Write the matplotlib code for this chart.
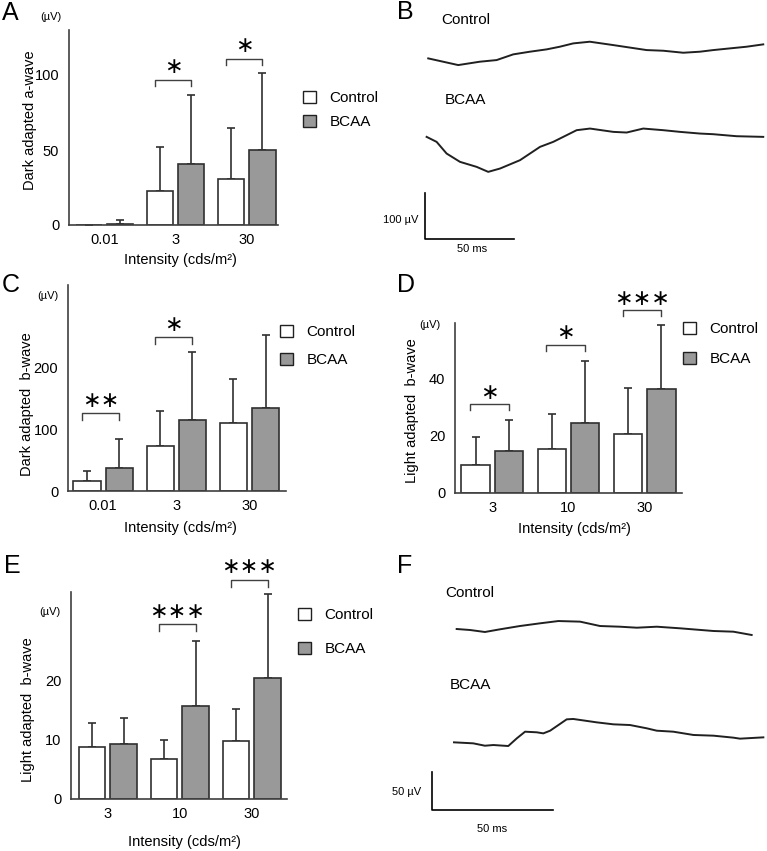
import numpy as np
import matplotlib.pyplot as plt
from matplotlib.patches import Patch

plt.rcParams['font.family'] = ['Liberation Sans', 'DejaVu Sans']

# bar chart data: (mean, sd) for Control and BCAA
a_ticks = ['0.01', '3', '30']
a_ctrl = [0, 23, 31]
a_ctrl_sd = [0, 29, 34]
a_bcaa = [0.8, 41, 50]
a_bcaa_sd = [2.7, 46, 51.5]
a_sig = [(1, 97, '∗'), (2, 111, '∗')]

c_ticks = ['0.01', '3', '30']
c_ctrl = [17, 73, 111]
c_ctrl_sd = [16, 57, 70]
c_bcaa = [38, 115, 135]
c_bcaa_sd = [47, 111, 118]
c_sig = [(0, 126, '∗∗'), (1, 250, '∗')]

d_ticks = ['3', '10', '30']
d_ctrl = [9.9, 15.6, 20.6]
d_ctrl_sd = [9.7, 12.2, 16.2]
d_bcaa = [14.7, 24.7, 36.4]
d_bcaa_sd = [10.8, 21.5, 22.4]
d_sig = [(0, 31.1, '∗'), (1, 51.8, '∗'), (2, 64, '∗∗∗')]

e_ticks = ['3', '10', '30']
e_ctrl = [8.8, 6.7, 9.7]
e_ctrl_sd = [4.0, 3.2, 5.5]
e_bcaa = [9.3, 15.6, 20.4]
e_bcaa_sd = [4.4, 11.0, 14.0]
e_sig = [(1, 29.4, '∗∗∗'), (2, 36.9, '∗∗∗')]

# ERG traces (time in ms, amplitude in uV relative to start)
b_ctrl_t = [0, 16.8, 28.9, 38.3, 47.6, 56.9, 66.3, 73.7, 81.2, 90.5, 103.6, 122.3,
            131.6, 142.8, 152.1, 159.6, 168.9, 178.3, 187.6]
b_ctrl_v = [0, -14.3, -7.1, -3.6, 8.6, 14.3, 19.3, 25, 32.1, 35.7, 28.5, 17.8,
            16.4, 12.1, 14.3, 17.8, 21.4, 25, 30]
b_bcaa_t = [0, 5.6, 11.2, 18.7, 28, 34.5, 41.1, 52.3, 63.5, 70.9, 78.4, 84, 91.5,
            104.5, 112, 121.3, 132.5, 141.9, 153.1, 160.5, 173.6, 188.5]
b_bcaa_v = [0, -10.7, -35.7, -53.5, -64.2, -74.9, -67.8, -49.9, -21.4, -10.7, 3.6,
            14.3, 17.8, 10.7, 9.3, 17.8, 14.3, 10.7, 7.1, 5.7, 1.4, 0]

f_ctrl_t = [0, 5.5, 11.6, 17.8, 26, 34.2, 41.8, 50.7, 58.9, 67.1, 74, 82.2, 91.8,
            105.5, 113.7, 121.2]
f_ctrl_v = [0, -1.3, -3.9, -0.4, 3.9, 7.4, 10.4, 9.6, 3.9, 3.0, 1.7, 3.0, 0.9,
            -2.6, -3.5, -7.8]
f_bcaa_t = [0, 7.9, 12.7, 16.2, 22.3, 25.8, 29.2, 34, 36.7, 39.5, 42.9, 46.3, 49,
            58.6, 65.5, 72.3, 79.2, 83.3, 90.1, 98.4, 106.6, 114.8, 117.5, 127.1]
f_bcaa_v = [0, -1.3, -4.4, -3.5, -4.8, 5.2, 13.9, 13.1, 11.7, 15.2, 22.6, 30, 30.5,
            26.1, 23.5, 22.6, 18.3, 15.2, 13.9, 9.6, 8.7, 6.1, 4.8, 6.5]

W, H = 767, 851
fig = plt.figure(figsize=(W / 100, H / 100), dpi=100)


def px_axes(left, top, right, bottom):
    return fig.add_axes([left / W, 1 - bottom / H, (right - left) / W, (bottom - top) / H])


def ftext(x, y, s, **kw):
    fig.text(x / W, 1 - y / H, s, **kw)


edge = '#303030'


def bar_panel(ax, ticks, ctrl, ctrl_sd, bcaa, bcaa_sd, sig, ylim, yticks, xlim,
              leg_pos, leg_space, ylab, ylab_xy, xlab_xy):
    x = np.arange(len(ticks))
    ax.bar(x - 0.22, ctrl, 0.37, color='white', edgecolor=edge, linewidth=1.2, zorder=2)
    ax.bar(x + 0.22, bcaa, 0.37, color='#999999', edgecolor=edge, linewidth=1.2, zorder=2)
    ax.errorbar(x - 0.22, ctrl, yerr=[np.zeros(3), ctrl_sd], fmt='none', ecolor=edge,
                elinewidth=1.2, capsize=3, capthick=1.2, zorder=1)
    ax.errorbar(x + 0.22, bcaa, yerr=[np.zeros(3), bcaa_sd], fmt='none', ecolor=edge,
                elinewidth=1.2, capsize=3, capthick=1.2, zorder=1)
    leg = (ylim[1] - ylim[0]) * 0.035
    for i, y, s in sig:
        ax.plot([i - 0.29, i - 0.29, i + 0.22, i + 0.22], [y - leg, y, y, y - leg],
                color='#404040', lw=1.0, clip_on=False)
        ax.text(i - 0.035, y + leg * 0.3, s, ha='center', va='bottom', fontsize=16,
                family=['DejaVu Sans'], clip_on=False)
    ax.set_xlim(*xlim)
    ax.set_ylim(*ylim)
    ax.set_xticks(x)
    ax.set_xticklabels(ticks)
    ax.set_yticks(yticks)
    ax.tick_params(length=0, labelsize=10.5, pad=7)
    ax.tick_params(axis='x', pad=6)
    for sp in ['top', 'right']:
        ax.spines[sp].set_visible(False)
    for sp in ['left', 'bottom']:
        ax.spines[sp].set_color('#404040')
        ax.spines[sp].set_linewidth(1.2)
    ax.set_ylabel(ylab, fontsize=10.5, va='center')
    ax.yaxis.set_label_coords(*ylab_xy)
    ax.set_xlabel('Intensity (cds/m²)', fontsize=10.5, va='center')
    ax.xaxis.set_label_coords(*xlab_xy)
    handles = [Patch(facecolor='white', edgecolor='#202020', linewidth=1.0, label='Control'),
               Patch(facecolor='#999999', edgecolor='#202020', linewidth=1.0, label='BCAA')]
    fig.legend(handles=handles, loc='upper left',
               bbox_to_anchor=(leg_pos[0] / W, 1 - leg_pos[1] / H), frameon=False,
               fontsize=11, handlelength=0.85, handleheight=0.85, handletextpad=0.9,
               labelspacing=leg_space, borderpad=0, borderaxespad=0)


axA = px_axes(69, 30, 278, 225)
bar_panel(axA, a_ticks, a_ctrl, a_ctrl_sd, a_bcaa, a_bcaa_sd, a_sig, (0, 130),
          [0, 50, 100], (-0.5, 2.44), (303, 91), 0.6, 'Dark adapted a-wave',
          (-0.187, 0.54), (0.531, -0.18))

axC = px_axes(68, 285, 286, 491)
bar_panel(axC, c_ticks, c_ctrl, c_ctrl_sd, c_bcaa, c_bcaa_sd, c_sig, (0, 334),
          [0, 100, 200], (-0.48, 2.5), (280, 325), 0.88, 'Dark adapted  b-wave',
          (-0.188, 0.42), (0.516, -0.181))

axD = px_axes(455, 323, 682, 493)
bar_panel(axD, d_ticks, d_ctrl, d_ctrl_sd, d_bcaa, d_bcaa_sd, d_sig, (0, 59.6),
          [0, 20, 40], (-0.49, 2.49), (683, 322), 1.02, 'Light adapted  b-wave',
          (-0.191, 0.486), (0.525, -0.209))

axE = px_axes(71, 592, 287, 799)
bar_panel(axE, e_ticks, e_ctrl, e_ctrl_sd, e_bcaa, e_bcaa_sd, e_sig, (0, 34.8),
          [0, 10, 20], (-0.51, 2.49), (298, 608), 1.28, 'Light adapted  b-wave',
          (-0.198, 0.43), (0.523, -0.208))

# trace panels
axB = px_axes(380, 0, 767, 270)
axB.plot(np.array(b_ctrl_t) + 0.9, np.array(b_ctrl_v) + 453, color='#202020', lw=1.4)
axB.plot(b_bcaa_t, np.array(b_bcaa_v) + 285, color='#202020', lw=1.4)
axB.plot([-1, -1, 49], [165.7, 65.7, 65.7], color='black', lw=1.2)
axB.set_xlim(-26.1, 190.6)
axB.set_ylim(0, 578)
axB.axis('off')

axF = px_axes(380, 570, 767, 851)
axF.plot(np.array(f_ctrl_t) + 1.1, np.array(f_ctrl_v) + 289.7, color='#202020', lw=1.4)
axF.plot(f_bcaa_t, np.array(f_bcaa_v) + 141.8, color='#202020', lw=1.4)
axF.plot([-9.2, -9.2, 40.8], [103.5, 53.5, 53.5], color='black', lw=1.2)
axF.set_xlim(-30.4, 128.6)
axF.set_ylim(0, 366.7)
axF.axis('off')

# text labels
ftext(441, 20, 'Control', fontsize=11, va='center')
ftext(445, 100, 'BCAA', fontsize=11, va='center')
ftext(383, 220, '100 µV', fontsize=8, va='center')
ftext(457, 249, '50 ms', fontsize=8, va='center')
ftext(445, 593, 'Control', fontsize=11, va='center')
ftext(450, 685, 'BCAA', fontsize=11, va='center')
ftext(392, 792, '50 µV', fontsize=8, va='center')
ftext(477, 829, '50 ms', fontsize=8, va='center')

for x, y in [(51, 17), (48, 296), (430, 325), (50, 612)]:
    ftext(x, y, '(µV)', fontsize=8, ha='center', va='center')

for x, y, s in [(2, 13, 'A'), (397, 12, 'B'), (2, 285, 'C'), (397, 285, 'D'),
                (4, 566, 'E'), (397, 566, 'F')]:
    ftext(x, y, s, fontsize=18, va='center')

fig.savefig('out.png', dpi=100)
